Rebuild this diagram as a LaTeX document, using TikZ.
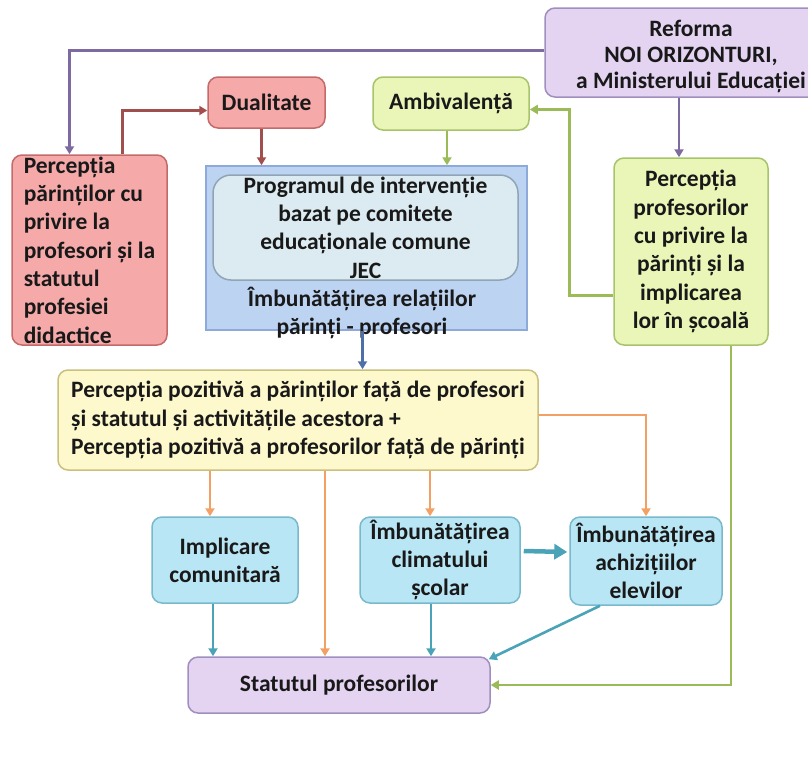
\documentclass[tikz,border=0pt]{standalone}
\usepackage{fontspec}
\setmainfont{Carlito}
\usetikzlibrary{arrows.meta}
\definecolor{purfill}{HTML}{E4D4F2}\definecolor{purline}{HTML}{9F8FBF}
\definecolor{redfill}{HTML}{F5A9A9}\definecolor{redline}{HTML}{C46A6A}
\definecolor{grnfill}{HTML}{EAF6B8}\definecolor{grnline}{HTML}{A7C46A}
\definecolor{blufill}{HTML}{BDD3F2}\definecolor{bluline}{HTML}{8EAADB}
\definecolor{inrfill}{HTML}{DCEBF1}\definecolor{inrline}{HTML}{8FA5B5}
\definecolor{yelfill}{HTML}{FDF9CD}\definecolor{yelline}{HTML}{CBBF7E}
\definecolor{cynfill}{HTML}{B9E6F5}\definecolor{cynline}{HTML}{79B9CC}
\definecolor{arpur}{HTML}{7D6AA0}\definecolor{arred}{HTML}{A04F4D}
\definecolor{argrn}{HTML}{9BBB59}\definecolor{arblu}{HTML}{4F6FA8}
\definecolor{arorg}{HTML}{F2A064}\definecolor{artea}{HTML}{4BA3B8}
\begin{document}
\begin{tikzpicture}[x=1pt,y=-1pt,
  box/.style={draw,rounded corners=10pt,line width=1.5pt,inner sep=0pt,align=center,
    font=\fontsize{23.5}{28.3}\selectfont\bfseries,text=black!90},
  conn/.style={line width=2.6pt,-{Triangle[length=8pt,width=9pt]}}]
\useasboundingbox (0,0) rectangle (808,772);
% boxes
\node[box,fill=purfill,draw=purline,minimum width=284,minimum height=89](ref)at(687,52.5){};
\node[box,draw=none,font=\fontsize{23.5}{26}\selectfont\bfseries](reft)at(691,56){Reforma\\NOI ORIZONTURI,\\a Ministerului Educației};
\node[box,fill=redfill,draw=redline,minimum width=117,minimum height=51](dua)at(266.5,102.5){Dualitate};
\node[box,fill=grnfill,draw=grnline,minimum width=156,minimum height=53](amb)at(451,103.5){Ambivalență};
\node[box,fill=redfill,draw=redline,minimum width=155,minimum height=190,align=left](par)at(89.5,250){Percepția\\părinților cu\\privire la\\profesori și la\\statutul\\profesiei\\didactice};
\node[box,fill=grnfill,draw=grnline,minimum width=154,minimum height=187](tea)at(691,251.5){Percepția\\profesorilor\\cu privire la\\părinți și la\\implicarea\\lor în școală};
\node[box,fill=blufill,draw=bluline,rounded corners=0pt,minimum width=321,minimum height=164](blu)at(366.5,248){};
\node[box,fill=inrfill,draw=inrline,rounded corners=18pt,minimum width=305,minimum height=105](inr)at(365.5,227.5){Programul de intervenție\\bazat pe comitete\\educaționale comune\\JEC};
\node[box,draw=none,anchor=south](rel)at(362,340){Îmbunătățirea relațiilor\\părinți - profesori};
\node[box,fill=yelfill,draw=yelline,minimum width=480,minimum height=100,align=left](yel)at(298,420){Percepția pozitivă a părinților față de profesori\\și statutul și activitățile acestora +\\Percepția pozitivă a profesorilor față de părinți};
\node[box,fill=cynfill,draw=cynline,minimum width=146,minimum height=86](imp)at(225,560){Implicare\\comunitară};
\node[box,fill=cynfill,draw=cynline,minimum width=160,minimum height=86](cli)at(440,560){Îmbunătățirea\\climatului\\școlar};
\node[box,fill=cynfill,draw=cynline,minimum width=152,minimum height=88](ach)at(646,561){Îmbunătățirea\\achizițiilor\\elevilor};
\node[box,fill=purfill,draw=purline,minimum width=302,minimum height=56](sta)at(339,685){Statutul profesorilor};
% connectors
\draw[conn,arpur]([yshift=2]ref.west)-|([xshift=-20]par.north);
\draw[conn,arpur]([xshift=-8]ref.south)--([xshift=-8]ref.south|-tea.north);
\draw[conn,arred]([xshift=33]par.north)|-([yshift=-8]dua.west);
\draw[conn,arred]([xshift=-5]dua.south)--([xshift=-5]dua.south|-blu.north);
\draw[conn,argrn]([xshift=-4]amb.south)--([xshift=-4]amb.south|-blu.north);
\draw[conn,argrn]([yshift=-44]tea.west)--++(-44,0)|-([yshift=-6]amb.east);
\draw[conn,arblu]([xshift=-4]blu.south)--([xshift=-4]blu.south|-yel.north);
\draw[conn,arorg]([xshift=-15]imp.north|-yel.south)--([xshift=-15]imp.north);
\draw[conn,arorg]([xshift=-14]sta.north|-yel.south)--([xshift=-14]sta.north);
\draw[conn,arorg]([xshift=-10]cli.north|-yel.south)--([xshift=-10]cli.north);
\draw[conn,arorg]([yshift=5]yel.east)-|(ach.north);
\draw[artea,line width=4.5pt,-{Triangle[length=13pt,width=15pt]}]([yshift=9,xshift=3]cli.east)--([yshift=9,xshift=-2]ach.west);
\draw[conn,artea]([xshift=-12]imp.south)--([xshift=-12]imp.south|-sta.north);
\draw[conn,artea]([xshift=-9]cli.south)--([xshift=-9]cli.south|-sta.north);
\draw[conn,artea]([xshift=-46]ach.south)--([xshift=-2,yshift=-3]sta.north east);
\draw[conn,argrn]([xshift=40]tea.south)|-(sta.east);
\end{tikzpicture}
\end{document}
